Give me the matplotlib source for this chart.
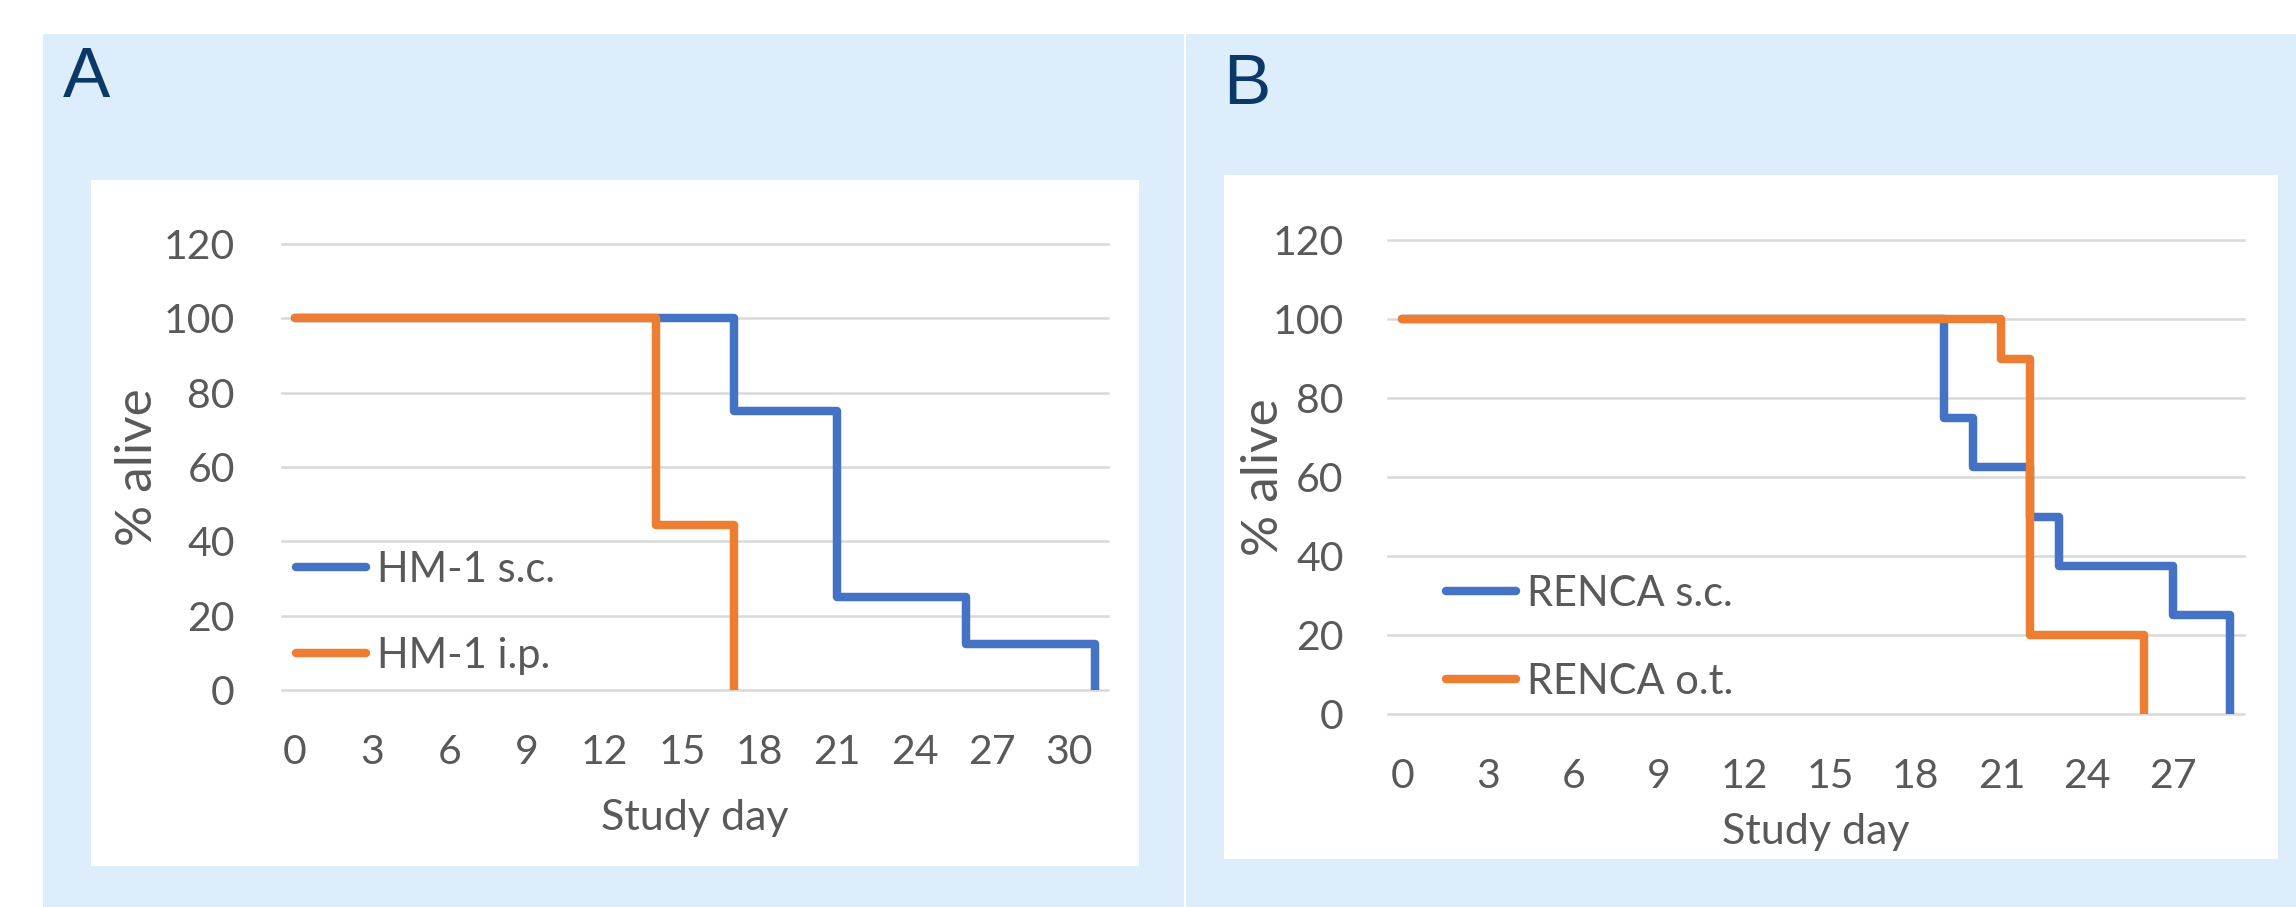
import matplotlib
matplotlib.use("Agg")
import matplotlib.pyplot as plt
from matplotlib.patches import Rectangle

# ---- survival data (% alive at each study day where the curve changes) ----
hm1_sc_days = [0, 17, 21, 26, 31]
hm1_sc_alive = [100, 75, 25, 12.5, 0]
hm1_ip_days = [0, 14, 17]
hm1_ip_alive = [100, 44.4, 0]

renca_sc_days = [0, 19, 20, 22, 23, 27, 29]
renca_sc_alive = [100, 75, 62.5, 50, 37.5, 25, 0]
renca_ot_days = [0, 21, 22, 26]
renca_ot_alive = [100, 90, 20, 0]

y_ticks = [0, 20, 40, 60, 80, 100, 120]
x_ticks_a = [0, 3, 6, 9, 12, 15, 18, 21, 24, 27, 30]
x_ticks_b = [0, 3, 6, 9, 12, 15, 18, 21, 24, 27]

labels_a = ["HM-1 s.c.", "HM-1 i.p."]
labels_b = ["RENCA s.c.", "RENCA o.t."]

# ---- styling ----
W, H, DPI = 2296, 907, 100
BLUE = "#4472C4"
ORANGE = "#ED7D31"
PANEL_BG = "#DEEDFC"
GRID = "#D9D9D9"
TEXT = "#595959"
LETTER = "#0C3868"
FONT = ["Lato", "DejaVu Sans"]
LW = 6.1

plt.rcParams["font.family"] = FONT

fig = plt.figure(figsize=(W / DPI, H / DPI), dpi=DPI)
fig.patch.set_facecolor("white")


def fbox(x0, y0, x1, y1):
    """Pixel box (top-left origin) -> figure-fraction rect."""
    return [x0 / W, 1 - y1 / H, (x1 - x0) / W, (y1 - y0) / H]


def fpt(x, y):
    return (x / W, 1 - y / H)


def add_rect(x0, y0, x1, y1, color):
    l, b, w, h = fbox(x0, y0, x1, y1)
    fig.add_artist(Rectangle((l, b), w, h, transform=fig.transFigure,
                             facecolor=color, edgecolor="none", zorder=0))


# panel backgrounds and white chart areas
add_rect(43, 34, 1184, 907, PANEL_BG)
add_rect(1186, 34, 2296, 907, PANEL_BG)
add_rect(91, 180, 1139, 866, "white")
add_rect(1224, 175, 2278, 859, "white")

# panel letters
fig.text(*fpt(63, 97), "A", fontsize=51, color=LETTER, ha="left", va="baseline",
         family=["Liberation Sans", "DejaVu Sans"])
fig.text(*fpt(1223, 104), "B", fontsize=51, color=LETTER, ha="left", va="baseline",
         family=["Liberation Sans", "DejaVu Sans"])


def survival_axes(rect, xmax, xticks, series, labels, ypad, ylab_x, xlab_y,
                  leg_anchor, leg_spacing):
    ax = fig.add_axes(rect)
    ax.set_facecolor("none")
    handles = []
    for (days, alive), color in zip(series, [BLUE, ORANGE]):
        ln, = ax.plot(days, alive, drawstyle="steps-post", color=color, lw=LW,
                      solid_capstyle="round", solid_joinstyle="round", zorder=3)
        handles.append(ln)
    ax.set_xlim(-0.5, xmax + 0.5)
    ax.set_ylim(0, 120)
    ax.set_yticks(y_ticks)
    ax.set_xticks(xticks)
    ax.grid(axis="y", color=GRID, lw=1.8)
    ax.set_axisbelow(True)
    for gl in ax.get_ygridlines():
        gl.set_clip_on(False)
    for s in ax.spines.values():
        s.set_visible(False)
    ax.tick_params(axis="x", length=0, pad=32, labelsize=29.5, labelcolor=TEXT)
    ax.tick_params(axis="y", length=0, pad=ypad, labelsize=29.5, labelcolor=TEXT)

    ax.set_ylabel("% alive", fontsize=37, color=TEXT)
    ax.yaxis.label.set_va("center")
    ax.yaxis.set_label_coords(ylab_x, 0.5)
    ax.set_xlabel("Study day", fontsize=31, color=TEXT)
    ax.xaxis.label.set_va("center")
    ax.xaxis.set_label_coords(0.5, xlab_y)

    leg = ax.legend(handles, labels, loc="center left",
                    bbox_to_anchor=fpt(*leg_anchor), bbox_transform=fig.transFigure,
                    frameon=False, borderpad=0, borderaxespad=0,
                    handlelength=1.68, handletextpad=0.26,
                    labelspacing=leg_spacing, fontsize=30)
    for t in leg.get_texts():
        t.set_color(TEXT)
    return ax


survival_axes(fbox(282, 244, 1108, 690), 31, x_ticks_a,
              [(hm1_sc_days, hm1_sc_alive), (hm1_ip_days, hm1_ip_alive)], labels_a,
              ypad=34, ylab_x=(138 - 282) / 826, xlab_y=-(818 - 690) / 446,
              leg_anchor=(296, 613), leg_spacing=1.15)

survival_axes(fbox(1388, 240, 2244, 714), 29, x_ticks_b,
              [(renca_sc_days, renca_sc_alive), (renca_ot_days, renca_ot_alive)], labels_b,
              ypad=32, ylab_x=(1264 - 1388) / 856, xlab_y=-(832 - 714) / 474,
              leg_anchor=(1446, 638), leg_spacing=1.2)

fig.savefig("out.png", dpi=DPI, facecolor=fig.get_facecolor())
